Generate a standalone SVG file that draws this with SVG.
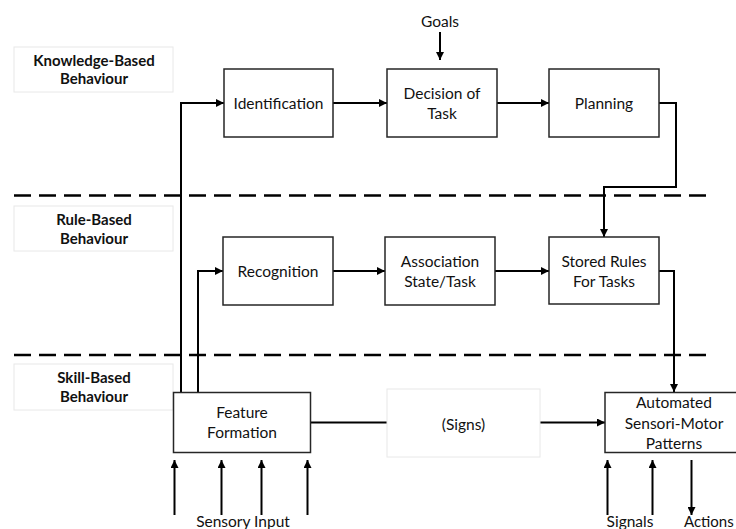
<svg xmlns="http://www.w3.org/2000/svg" width="736" height="529" viewBox="0 0 736 529">
  <style>
    .box { fill: #fff; stroke: #262626; stroke-width: 1.5; }
    .ghost { fill: #fff; stroke: #e8e8e8; stroke-width: 1; }
    .txt { font-family: Lato, "Open Sans", sans-serif; font-size: 15.5px; fill: #111; text-anchor: middle; }
    .lbl { font-family: Lato, "Open Sans", sans-serif; font-size: 15px; font-weight: bold; fill: #111; text-anchor: middle; }
    .wire { fill: none; stroke: #000; stroke-width: 2; }
    .arr { fill: none; stroke: #000; stroke-width: 2; marker-end: url(#head); }
    .dash { fill: none; stroke: #000; stroke-width: 2.5; stroke-dasharray: 17 8; }
  </style>
  <defs>
    <marker id="head" viewBox="0 0 10 10" refX="10" refY="5" markerWidth="4" markerHeight="4" markerUnits="strokeWidth" orient="auto">
      <path d="M0,0 L10,5 L0,10 z" fill="#000"/>
    </marker>
  </defs>

  <rect width="736" height="529" fill="#fff"/>

  <!-- level labels -->
  <g id="level-knowledge">
    <rect class="ghost" x="14" y="47" width="159" height="45"/>
    <text class="lbl" x="94" y="66">Knowledge-Based</text>
    <text class="lbl" x="94" y="84">Behaviour</text>
  </g>
  <g id="level-rule">
    <rect class="ghost" x="14" y="206" width="159" height="45"/>
    <text class="lbl" x="94" y="225">Rule-Based</text>
    <text class="lbl" x="94" y="244">Behaviour</text>
  </g>
  <g id="level-skill">
    <rect class="ghost" x="14" y="364" width="159" height="46"/>
    <text class="lbl" x="94" y="383">Skill-Based</text>
    <text class="lbl" x="94" y="402">Behaviour</text>
  </g>

  <!-- level separators -->
  <g id="separators">
    <line class="dash" x1="14" y1="195.5" x2="707" y2="195.5"/>
    <line class="dash" x1="14" y1="355" x2="707" y2="355"/>
  </g>

  <!-- connectors -->
  <g id="connectors">
    <path class="arr" d="M440,32 V60"/>
    <path class="arr" d="M181,392 V103 H224"/>
    <path class="arr" d="M198,392 V271 H223"/>
    <path class="arr" d="M333,103 H387"/>
    <path class="arr" d="M497,103 H549"/>
    <path class="arr" d="M659,103 H676 V187 H604 V237"/>
    <path class="arr" d="M333,271 H385"/>
    <path class="arr" d="M495,271 H549"/>
    <path class="arr" d="M659,271 H674 V392"/>
    <path class="wire" d="M311,422.5 H387"/>
    <path class="arr" d="M540,422.5 H605"/>
    <path class="arr" d="M174.5,515 V460"/>
    <path class="arr" d="M221.5,515 V460"/>
    <path class="arr" d="M261.5,515 V460"/>
    <path class="arr" d="M307.5,515 V460"/>
    <path class="arr" d="M607.5,515 V460"/>
    <path class="arr" d="M652.5,515 V460"/>
    <path class="arr" d="M691.5,460 V515"/>
  </g>

  <!-- nodes -->
  <g id="goals">
    <text class="txt" x="440" y="27">Goals</text>
  </g>
  <g id="identification">
    <rect class="box" x="224" y="69" width="109" height="68"/>
    <text class="txt" x="278.5" y="109">Identification</text>
  </g>
  <g id="decision">
    <rect class="box" x="387" y="69" width="110" height="68"/>
    <text class="txt" x="442" y="99">Decision of</text>
    <text class="txt" x="442" y="118.5">Task</text>
  </g>
  <g id="planning">
    <rect class="box" x="549" y="69" width="110" height="68"/>
    <text class="txt" x="604" y="109">Planning</text>
  </g>
  <g id="recognition">
    <rect class="box" x="223" y="237" width="110" height="68"/>
    <text class="txt" x="278" y="277">Recognition</text>
  </g>
  <g id="association">
    <rect class="box" x="385" y="237" width="110" height="68"/>
    <text class="txt" x="440" y="267">Association</text>
    <text class="txt" x="440" y="287">State/Task</text>
  </g>
  <g id="stored-rules">
    <rect class="box" x="549" y="237" width="110" height="67"/>
    <text class="txt" x="604" y="267">Stored Rules</text>
    <text class="txt" x="604" y="287">For Tasks</text>
  </g>
  <g id="feature-formation">
    <rect class="box" x="173.5" y="392.5" width="137" height="60"/>
    <text class="txt" x="242" y="418">Feature</text>
    <text class="txt" x="242" y="438">Formation</text>
  </g>
  <g id="signs">
    <rect class="ghost" x="387" y="389" width="153" height="68"/>
    <text class="txt" x="463.5" y="429.5">(Signs)</text>
  </g>
  <g id="sensori-motor">
    <rect class="box" x="605" y="392.5" width="137" height="60"/>
    <text class="txt" x="674" y="408">Automated</text>
    <text class="txt" x="674" y="428.5">Sensori-Motor</text>
    <text class="txt" x="674" y="448.5">Patterns</text>
  </g>
  <g id="io-labels">
    <text class="txt" x="243" y="527">Sensory Input</text>
    <text class="txt" x="630" y="527">Signals</text>
    <text class="txt" x="684" y="527" style="text-anchor:start;font-size:15px">Actions</text>
  </g>
</svg>
